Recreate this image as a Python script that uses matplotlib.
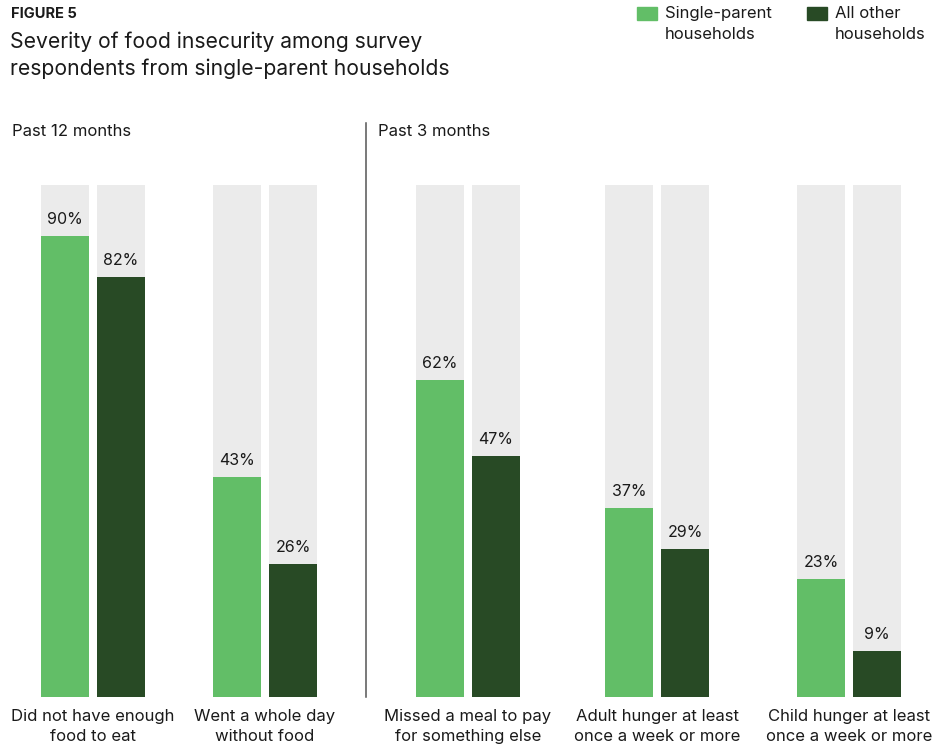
import numpy as np
import matplotlib.pyplot as plt
from matplotlib.patches import Rectangle

plt.rcParams['font.family'] = ['Inter', 'DejaVu Sans']

# data
categories = [
    "Did not have enough\nfood to eat",
    "Went a whole day\nwithout food",
    "Missed a meal to pay\nfor something else",
    "Adult hunger at least\nonce a week or more",
    "Child hunger at least\nonce a week or more",
]
single_parent = [90, 43, 62, 37, 23]
all_other = [82, 26, 47, 29, 9]
series_names = ["Single-parent\nhouseholds", "All other\nhouseholds"]

GREEN = "#62be67"
DARK = "#284a25"
BG = "#ebebeb"
TXT = "#1a1a1a"

W, H = 947, 748
fig = plt.figure(figsize=(W / 100, H / 100), dpi=100)

# plot area in pixel-like units horizontally, 0-100 vertically
base_px, top_px = 697, 185
ax = fig.add_axes([0, (H - base_px) / H, 1, (base_px - top_px) / H])
ax.set_xlim(0, W)
ax.set_ylim(0, 100)
ax.axis("off")

centers = np.array([93, 265, 468, 657, 849])
bw = 48
off = 28

ax.bar(centers - off, [100] * 5, width=bw, color=BG, zorder=1)
ax.bar(centers + off, [100] * 5, width=bw, color=BG, zorder=1)
b1 = ax.bar(centers - off, single_parent, width=bw, color=GREEN, zorder=2)
b2 = ax.bar(centers + off, all_other, width=bw, color=DARK, zorder=2)

for bars, vals in ((b1, single_parent), (b2, all_other)):
    for r, v in zip(bars, vals):
        ax.annotate(f"{v}%", (r.get_x() + r.get_width() / 2, v),
                    xytext=(0, 9), textcoords="offset pixels",
                    ha="center", va="bottom", fontsize=11.5, color=TXT)

for c, lab in zip(centers, categories):
    ax.annotate(lab, (c, 0), xytext=(0, -12), textcoords="offset pixels",
                ha="center", va="top", fontsize=12, color=TXT,
                linespacing=1.45, annotation_clip=False)

# divider between the two time periods
fig.add_artist(plt.Line2D([366 / W, 366 / W], [1 - 123 / H, 1 - 697 / H],
                          color="#555555", lw=1.1))

fig.text(12 / W, 1 - 132 / H, "Past 12 months", fontsize=12, color=TXT,
         ha="left", va="center")
fig.text(378 / W, 1 - 132 / H, "Past 3 months", fontsize=12, color=TXT,
         ha="left", va="center")

# title block
fig.text(11 / W, 1 - 14 / H, "FIGURE 5", fontsize=10.5, fontweight="bold",
         color=TXT, ha="left", va="center")
fig.text(10 / W, 1 - 55 / H,
         "Severity of food insecurity among survey\nrespondents from single-parent households",
         fontsize=15.2, color=TXT, ha="left", va="center", linespacing=1.4)

# legend
for x0, col, name in ((637, GREEN, series_names[0]), (807, DARK, series_names[1])):
    fig.add_artist(Rectangle((x0 / W, 1 - 20 / H), 20 / W, 13 / H,
                             color=col, transform=fig.transFigure))
    fig.text((x0 + 28) / W, 1 - 24 / H, name, fontsize=12, color=TXT,
             ha="left", va="center", linespacing=1.55)

fig.savefig("out.png", dpi=100)
